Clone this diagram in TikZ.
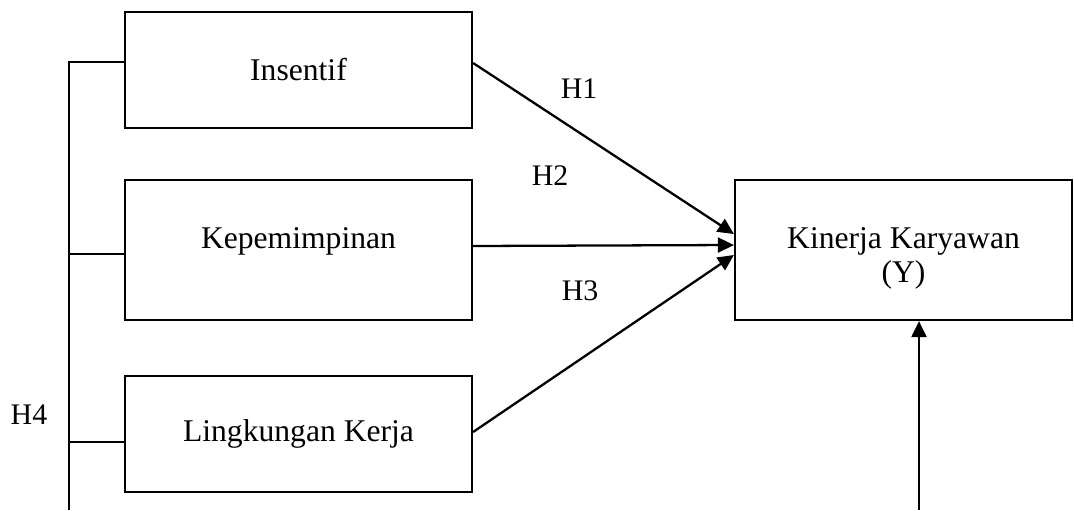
\documentclass[tikz,border=0pt]{standalone}
\usepackage{fontspec}
\setmainfont{Liberation Serif}
\usetikzlibrary{arrows.meta}
\begin{document}
\begin{tikzpicture}
[x=0.02cm, y=-0.02cm, line width=1.3pt, color=black,
 var/.style={draw, align=center, inner sep=0pt,
   font=\fontsize{18}{19.5}\selectfont},
 hyp/.style={font=\fontsize{17}{20}\selectfont},
 >={Triangle[length=0.32cm,width=0.3cm]}]
\useasboundingbox (0,0) rectangle (1074,510);
  \node [var, minimum width=6.94cm, minimum height=2.32cm] (ins) at (298.5,70) {Insentif};
  \node [var, minimum width=6.94cm, minimum height=2.8cm] (kep) at (298.5,250)
    {\raisebox{0.04cm}[0pt][0pt]{Kepemimpinan}};
  \node [var, minimum width=6.94cm, minimum height=2.32cm] (lin) at (298.5,434) {Lingkungan Kerja};
  \node [var, minimum width=6.74cm, minimum height=2.8cm] (kin) at (903.5,250)
    {\raisebox{0.04cm}[0pt][0pt]{\begin{tabular}[t]{@{}c@{}}Kinerja Karyawan\\(Y)\end{tabular}}};
  \node [hyp] (h1) at (579,89) {H1};
  \node [hyp] (h2) at (550,176) {H2};
  \node [hyp] (h3) at (580,291) {H3};
  \node [hyp] (h4) at (29,415) {H4};
  % arrow ends
  \coordinate (ins out) at ([yshift=0.14cm]ins.east);
  \coordinate (kep out) at ([yshift=0.08cm]kep.east);
  \coordinate (lin out) at ([yshift=0.04cm]lin.east);
  \coordinate (kin in1) at ([yshift=0.32cm]kin.west);
  \coordinate (kin in2) at ([yshift=0.1cm]kin.west);
  \coordinate (kin in3) at ([yshift=-0.1cm]kin.west);
  \foreach \from/\to in {ins out/kin in1,kep out/kin in2,lin out/kin in3}
  \draw [->] (\from) -- (\to);
  % H4 line
  \coordinate (bus) at (69,510);
  \coordinate (ins tick) at ([yshift=0.16cm]ins.west);
  \coordinate (kep tick) at ([yshift=-0.08cm]kep.west);
  \coordinate (lin tick) at ([yshift=-0.16cm]lin.west);
  \draw (ins tick) -| (bus);
  \foreach \t in {kep tick,lin tick}
  \draw (\t) -- (\t -| bus);
  \coordinate (yin) at (919,510);
  \draw [->] (yin) -- (yin |- kin.south);
\end{tikzpicture}
\end{document}
